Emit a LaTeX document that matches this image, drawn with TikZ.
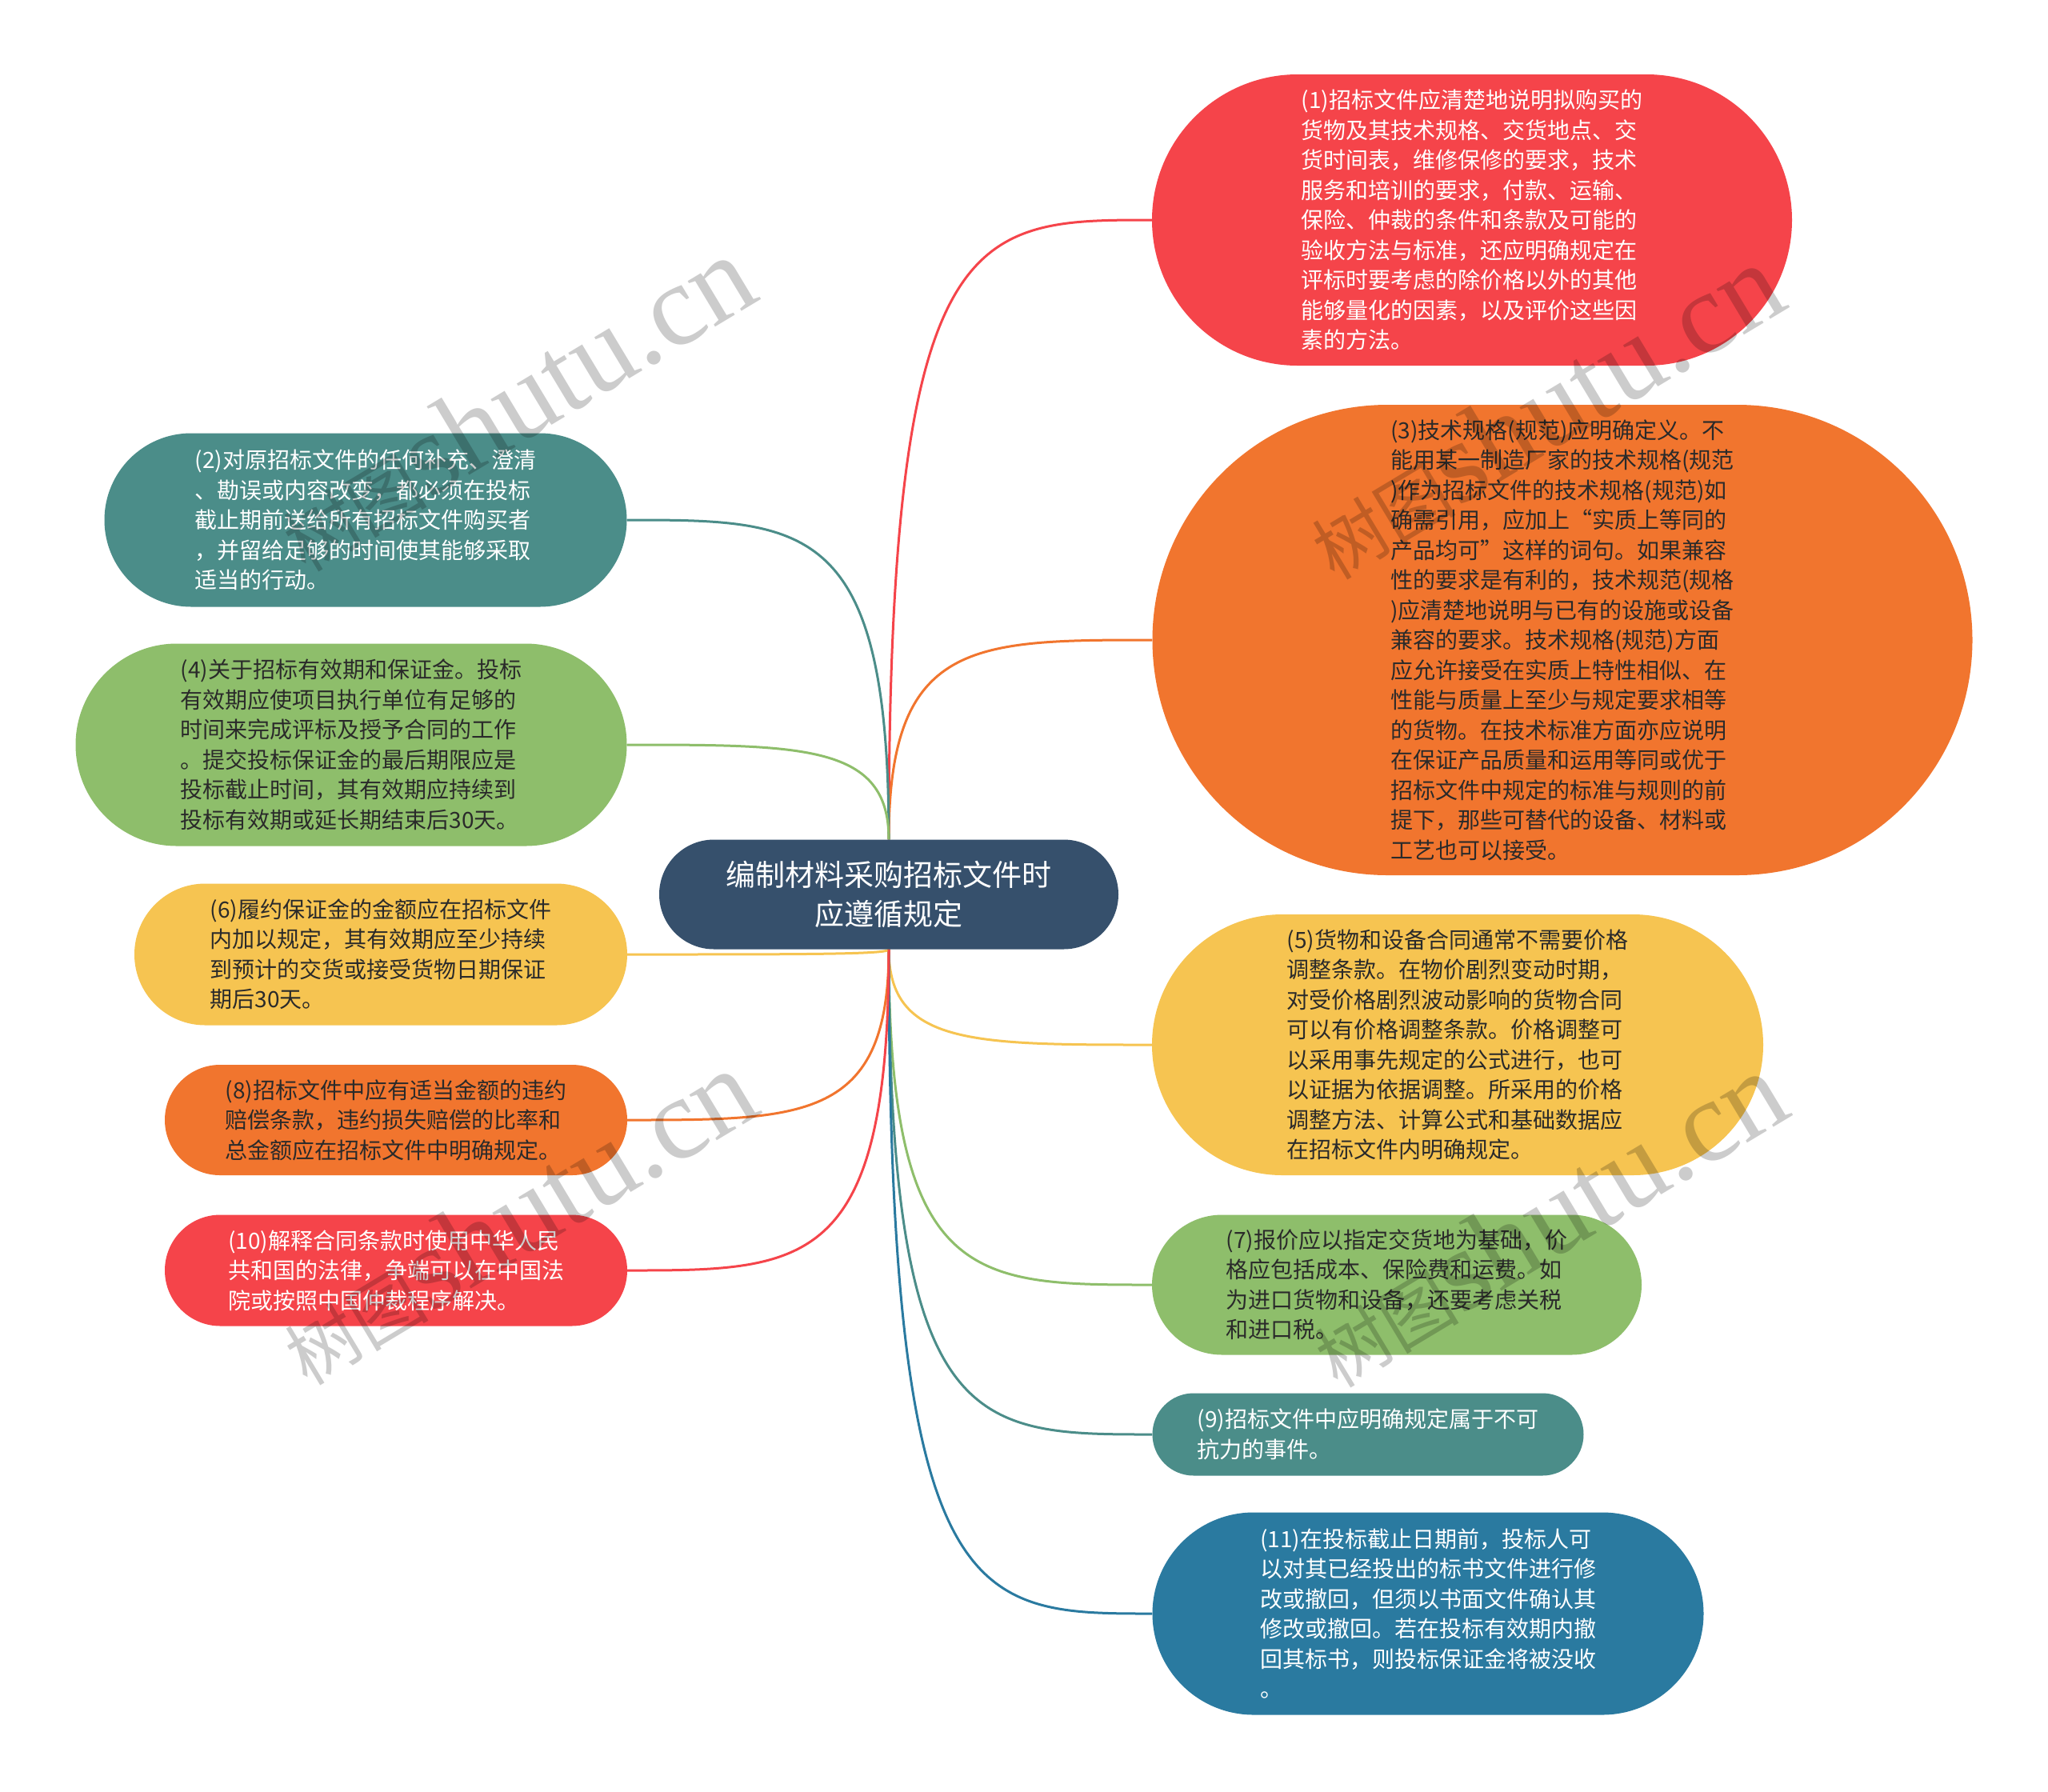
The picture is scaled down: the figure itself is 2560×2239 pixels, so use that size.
\documentclass[tikz,border=0pt]{standalone}
\usepackage{fontspec}
\setmainfont{Noto Sans CJK SC}
\newfontfamily\wmserif{Liberation Serif}
\usetikzlibrary{calc,shapes.misc}
\pgfdeclarelayer{background}
\pgfdeclarelayer{foreground}
\pgfsetlayers{background,main,foreground}
\definecolor{cRed}{HTML}{F5444A}
\definecolor{cOrange}{HTML}{F1752E}
\definecolor{cYellow}{HTML}{F6C451}
\definecolor{cGreen}{HTML}{8EBE6B}
\definecolor{cTeal}{HTML}{4B8D89}
\definecolor{cBlue}{HTML}{2A7AA0}
\definecolor{cCenter}{HTML}{36506C}
\definecolor{cDark}{HTML}{2A2A2A}
\newcommand\linkto[3]{\draw[link,#1] (#2) .. controls ($(#2 |- #3)$) and ($(#2 |- #3)!0.32!(#3)$) .. (#3);}
\newcommand\wmtext{{\fontsize{90pt}{100pt}\selectfont 树图}{\wmserif\fontsize{145pt}{150pt}\selectfont shutu.cn}}
\begin{document}
\begin{tikzpicture}[x=1pt,y=-1pt,
  box/.style={rounded rectangle, inner sep=0pt, align=left, font=\fontsize{28pt}{37.5pt}\selectfont},
  light/.style={text=white},
  darktext/.style={text=cDark},
  link/.style={line width=3pt},
  wm/.style={rotate=31, text=black, opacity=0.2, inner sep=0pt}
]
\begin{pgfonlayer}{background}
\fill[white] (0,0) rectangle (2560,2239);
\end{pgfonlayer}
\useasboundingbox (0,0) rectangle (2560,2239);

% nodes
\node[rounded rectangle, inner sep=0pt, fill=cCenter, text=white, align=center,
  minimum width=574pt, minimum height=137pt, font=\fontsize{37pt}{49pt}\selectfont] (c) at (1111,1118)
  {编制材料采购招标文件时\\应遵循规定};

\node[box, light, fill=cRed, minimum width=800pt, minimum height=364pt] (n1) at (1840,275)
{(1)招标文件应清楚地说明拟购买的\\货物及其技术规格、交货地点、交\\货时间表，维修保修的要求，技术\\服务和培训的要求，付款、运输、\\保险、仲裁的条件和条款及可能的\\验收方法与标准，还应明确规定在\\评标时要考虑的除价格以外的其他\\能够量化的因素，以及评价这些因\\素的方法。};

\node[box, darktext, fill=cOrange, minimum width=1025pt, minimum height=588pt] (n3) at (1953,800)
{(3)技术规格(规范)应明确定义。不\\能用某一制造厂家的技术规格(规范\\)作为招标文件的技术规格(规范)如\\确需引用，应加上“实质上等同的\\产品均可”这样的词句。如果兼容\\性的要求是有利的，技术规范(规格\\)应清楚地说明与已有的设施或设备\\兼容的要求。技术规格(规范)方面\\应允许接受在实质上特性相似、在\\性能与质量上至少与规定要求相等\\的货物。在技术标准方面亦应说明\\在保证产品质量和运用等同或优于\\招标文件中规定的标准与规则的前\\提下，那些可替代的设备、材料或\\工艺也可以接受。};

\node[box, darktext, fill=cYellow, minimum width=764pt, minimum height=326pt] (n5) at (1822,1306)
{(5)货物和设备合同通常不需要价格\\调整条款。在物价剧烈变动时期，\\对受价格剧烈波动影响的货物合同\\可以有价格调整条款。价格调整可\\以采用事先规定的公式进行，也可\\以证据为依据调整。所采用的价格\\调整方法、计算公式和基础数据应\\在招标文件内明确规定。};

\node[box, darktext, fill=cGreen, minimum width=612pt, minimum height=175pt] (n7) at (1746,1606)
{(7)报价应以指定交货地为基础，价\\格应包括成本、保险费和运费。如\\为进口货物和设备，还要考虑关税\\和进口税。};

\node[box, light, fill=cTeal, minimum width=539pt, minimum height=103pt] (n9) at (1710,1793)
{(9)招标文件中应明确规定属于不可\\抗力的事件。};

\node[box, light, fill=cBlue, minimum width=689pt, minimum height=253pt] (n11) at (1785,2017)
{(11)在投标截止日期前，投标人可\\以对其已经投出的标书文件进行修\\改或撤回，但须以书面文件确认其\\修改或撤回。若在投标有效期内撤\\回其标书，则投标保证金将被没收\\。};

\node[box, light, fill=cTeal, minimum width=653pt, minimum height=217pt] (n2) at (457,650)
{(2)对原招标文件的任何补充、澄清\\、勘误或内容改变，都必须在投标\\截止期前送给所有招标文件购买者\\，并留给足够的时间使其能够采取\\适当的行动。};

\node[box, darktext, fill=cGreen, minimum width=689pt, minimum height=253pt] (n4) at (439,931)
{(4)关于招标有效期和保证金。投标\\有效期应使项目执行单位有足够的\\时间来完成评标及授予合同的工作\\。提交投标保证金的最后期限应是\\投标截止时间，其有效期应持续到\\投标有效期或延长期结束后30天。};

\node[box, darktext, fill=cYellow, minimum width=616pt, minimum height=177pt] (n6) at (476,1193)
{(6)履约保证金的金额应在招标文件\\内加以规定，其有效期应至少持续\\到预计的交货或接受货物日期保证\\期后30天。};

\node[box, darktext, fill=cOrange, minimum width=578pt, minimum height=138pt] (n8) at (495,1400)
{(8)招标文件中应有适当金额的违约\\赔偿条款，违约损失赔偿的比率和\\总金额应在招标文件中明确规定。};

\node[box, light, fill=cRed, minimum width=578pt, minimum height=139pt] (n10) at (495,1588)
{(10)解释合同条款时使用中华人民\\共和国的法律，争端可以在中国法\\院或按照中国仲裁程序解决。};

% connectors (behind nodes)
\begin{pgfonlayer}{background}
\linkto{cRed}{c.north}{n1.west}
\linkto{cOrange}{c.north}{n3.west}
\linkto{cTeal}{c.north}{n2.east}
\linkto{cGreen}{c.north}{n4.east}
\linkto{cYellow}{c.south}{n5.west}
\linkto{cGreen}{c.south}{n7.west}
\linkto{cTeal}{c.south}{n9.west}
\linkto{cBlue}{c.south}{n11.west}
\linkto{cYellow}{c.south}{n6.east}
\linkto{cOrange}{c.south}{n8.east}
\linkto{cRed}{c.south}{n10.east}
\end{pgfonlayer}

% watermarks
\begin{pgfonlayer}{foreground}
\node[wm] (w1) at (644,505) {\wmtext};
\node[wm] (w2) at (1930,515) {\wmtext};
\node[wm] (w3) at (646,1522) {\wmtext};
\node[wm] (w4) at (1934,1525) {\wmtext};
\end{pgfonlayer}
\end{tikzpicture}
\end{document}
